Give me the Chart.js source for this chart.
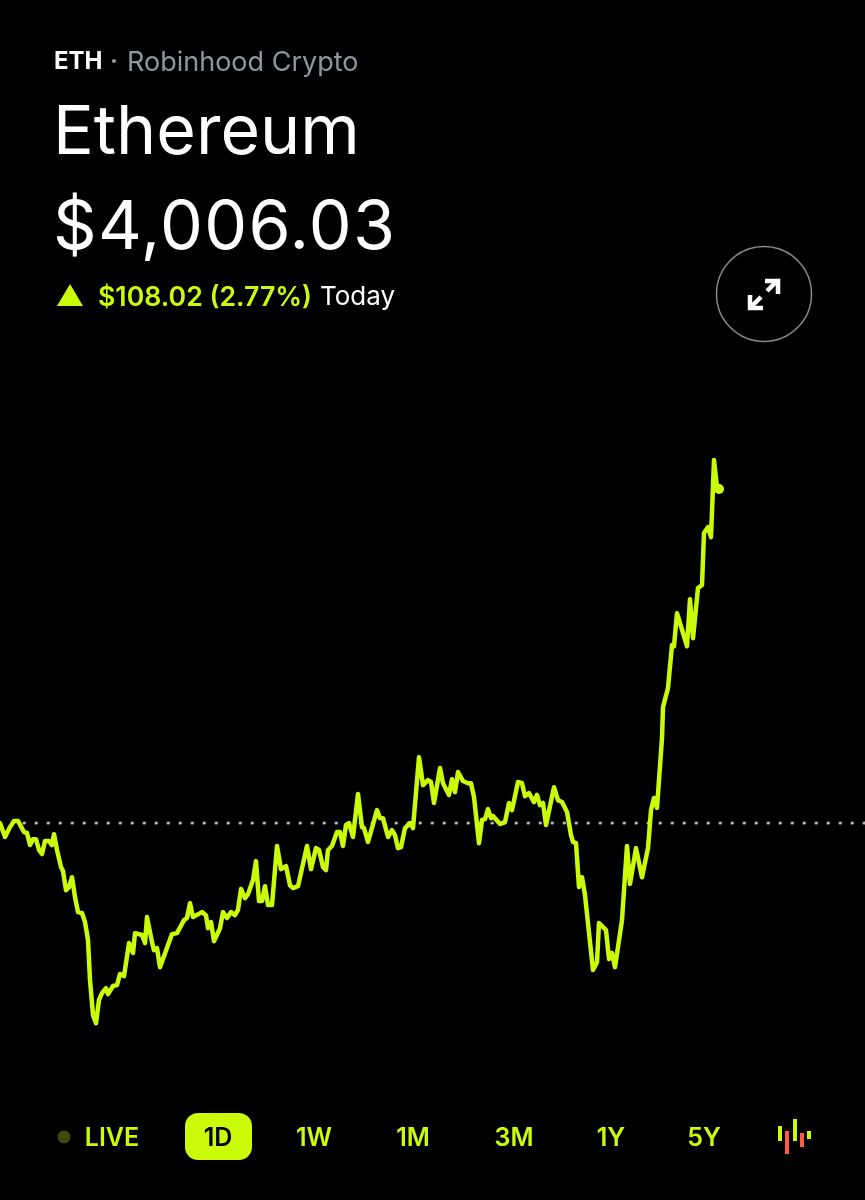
<!DOCTYPE html>
<html><head><meta charset="utf-8">
<script src="https://cdn.jsdelivr.net/npm/chart.js@4"></script>
<style>
html,body{margin:0;padding:0;background:#000;width:865px;height:1200px;overflow:hidden}
#wrap{position:relative;width:865px;height:1200px;font-family:Inter,"Noto Sans",sans-serif}
canvas{position:absolute;left:0;top:0}
.t{position:absolute;white-space:nowrap;line-height:1}
.r{position:absolute;top:1125px;font-size:25px;font-weight:600;color:#CAFC0A;transform:translateX(-50%);white-space:nowrap;line-height:1}
svg{position:absolute;left:0;top:0}
</style></head><body>
<div id="wrap">
<canvas id="c" width="865" height="1200"></canvas>
<div class="t" style="left:54px;top:49px;font-size:24px;font-weight:700;color:#fff" id="sym">ETH</div>
<div class="t" style="left:110px;top:49px;font-size:24px;font-weight:700;color:#8d979f">·</div>
<div class="t" style="left:127px;top:48px;font-size:27px;font-weight:400;color:#8d979f">Robinhood Crypto</div>
<div class="t" style="left:53px;top:95px;font-size:68px;font-weight:400;color:#fff">Ethereum</div>
<div class="t" style="left:53px;top:190px;font-size:68px;font-weight:400;letter-spacing:1.3px;color:#fff">$4,006.03</div>
<div class="t" style="left:98px;top:283px;font-size:26.7px;font-weight:600;color:#CAFC0A">$108.02 (2.77%)</div>
<div class="t" style="left:320px;top:283px;font-size:26px;font-weight:400;color:#fff">Today</div>
<svg width="865" height="1200">
  <polygon points="57,306 83,306 70,284" fill="#CAFC0A"/>
  <circle cx="764" cy="294" r="47.5" fill="none" stroke="#8a8a8a" stroke-width="1.5"/>
  <g stroke="#fff" stroke-width="4.5" fill="none">
    <path d="M767,291 L778,280"/><path d="M765,281 L778,281 L778,294"/>
    <path d="M761,297 L750,308"/><path d="M750,295 L750,308 L763,308"/>
  </g>
  <circle cx="64" cy="1137" r="6.5" fill="#3f4a10"/>
  <rect x="185" y="1113" width="67" height="47" rx="13" fill="#CAFC0A"/>
  <rect x="778" y="1126" width="4" height="15" fill="#CAFC0A"/>
  <rect x="785" y="1131" width="4" height="23" fill="#FF5A47"/>
  <rect x="793" y="1119" width="4" height="22" fill="#CAFC0A"/>
  <rect x="800" y="1133" width="4" height="14" fill="#FF5A47"/>
  <rect x="807" y="1131" width="4" height="8" fill="#CAFC0A"/>
</svg>
<div class="r" style="left:112px">LIVE</div>
<div class="r" style="left:218px;color:#000">1D</div>
<div class="r" style="left:314px">1W</div>
<div class="r" style="left:413px">1M</div>
<div class="r" style="left:514px">3M</div>
<div class="r" style="left:611px">1Y</div>
<div class="r" style="left:704px">5Y</div>
</div>
<script>
// Minutes since the start of the session (the axis runs past the last trade to the open right-hand margin)
const minutes = [0,10,20,28,36,48,54,60,66,72,78,84,90,98,104,108,114,122,126,132,138,144,150,156,164,170,176,180,186,192,198,204,212,216,226,234,240,248,258,266,270,284,290,294,304,308,314,320,344,354,368,374,380,386,404,412,416,422,428,440,446,454,462,470,476,482,490,496,506,512,518,524,530,536,544,554,562,572,580,586,596,614,622,632,638,646,652,656,664,674,680,686,692,698,706,716,724,728,736,754,760,766,776,784,790,796,802,810,820,826,838,846,856,862,868,880,886,898,904,910,916,926,936,942,948,958,964,970,976,982,986,1000,1010,1018,1024,1036,1044,1050,1058,1068,1074,1080,1086,1092,1108,1116,1124,1134,1142,1146,1152,1158,1162,1164,1170,1186,1194,1198,1212,1218,1224,1230,1244,1254,1260,1272,1284,1296,1302,1308,1314,1324,1326,1336,1344,1348,1354,1374,1380,1386,1396,1404,1408,1416,1422,1428,1434,1438];
const prices = [3898.0,3893.5,3896.7,3898.7,3898.7,3895.1,3894.8,3890.9,3892.8,3892.8,3889.3,3888.0,3892.2,3892.2,3890.9,3894.4,3889.3,3883.8,3882.5,3876.3,3877.3,3880.5,3874.1,3869.2,3868.9,3866.0,3860.2,3847.2,3835.9,3833.3,3840.8,3843.0,3844.6,3842.7,3845.3,3845.6,3849.2,3848.5,3859.2,3856.0,3862.4,3861.8,3859.2,3867.6,3859.5,3856.9,3857.6,3851.4,3862.1,3862.4,3866.6,3867.3,3872.1,3867.6,3869.2,3868.2,3864.0,3866.0,3859.8,3864.0,3869.2,3867.3,3869.2,3868.2,3869.9,3876.7,3873.7,3875.0,3879.6,3885.7,3872.8,3872.8,3877.6,3871.5,3871.5,3890.6,3883.1,3884.1,3877.9,3877.0,3877.6,3890.6,3883.1,3889.9,3889.3,3883.8,3882.8,3889.3,3890.6,3895.1,3895.1,3890.6,3897.4,3898.0,3893.5,3907.4,3896.7,3896.4,3891.9,3902.2,3899.6,3899.6,3893.5,3895.7,3894.1,3889.9,3890.2,3896.4,3898.0,3896.4,3919.3,3910.3,3911.9,3911.3,3904.5,3915.8,3910.9,3907.1,3912.2,3908.0,3914.5,3911.6,3910.9,3910.9,3906.4,3891.5,3899.0,3899.3,3902.5,3899.6,3900.3,3897.7,3898.3,3904.5,3902.2,3911.3,3910.9,3906.7,3907.7,3904.8,3907.1,3903.8,3904.5,3897.4,3909.6,3905.4,3904.8,3901.6,3894.1,3891.9,3891.5,3877.3,3880.5,3880.5,3874.7,3850.5,3853.0,3865.7,3863.4,3854.0,3856.0,3851.4,3866.6,3890.6,3878.3,3889.9,3880.5,3889.9,3902.2,3906.1,3902.9,3925.5,3935.5,3941.7,3955.6,3955.2,3965.9,3955.2,3970.4,3957.8,3974.0,3975.0,3991.8,3993.7,3990.5,4015.4,4006.5,4006.03];
const openPrice = 3898.01;
const axisMinutes = [0,1730];
const axisPrices = [3776.1,4164.2];

const neon = '#CAFC0A';
const lastIndex = prices.length - 1;
new Chart(document.getElementById('c'), {
  type: 'line',
  data: {
    datasets: [
      { label:'ETH', data: minutes.map((m,i)=>({x:m,y:prices[i]})), borderColor:neon, backgroundColor:neon,
        borderWidth:4.5, borderJoinStyle:'round', borderCapStyle:'round', tension:0,
        pointRadius:c=>c.dataIndex===lastIndex?5:0, pointBorderWidth:0, order:1 },
      { label:'Open', data: axisMinutes.map(m=>({x:m,y:openPrice})), borderColor:'#b4b4b4',
        borderWidth:3, borderDash:[0.5,11.5], borderCapStyle:'round', pointRadius:0, order:2 }
    ]
  },
  options: {
    responsive:false, animation:false, devicePixelRatio:1,
    layout:{padding:0, autoPadding:false},
    plugins:{legend:{display:false},tooltip:{enabled:false}},
    scales:{
      x:{type:'linear',display:false,min:axisMinutes[0],max:axisMinutes[1]},
      y:{type:'linear',display:false,min:axisPrices[0],max:axisPrices[1]}
    }
  }
});
</script>
</body></html>
